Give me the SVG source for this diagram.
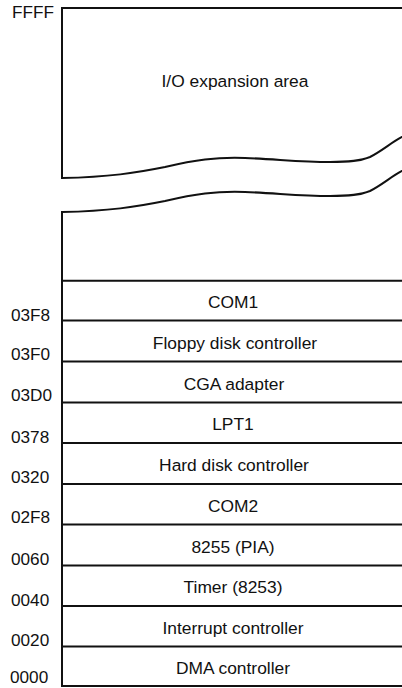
<svg xmlns="http://www.w3.org/2000/svg" width="402" height="688" viewBox="0 0 402 688">
<style>
.ln{stroke:#111;stroke-width:2;fill:none;stroke-linecap:square}
.lb{font-family:"Liberation Sans",Arial,sans-serif;font-size:17.4px;fill:#111;text-anchor:middle}
.ad{font-family:"Liberation Sans",Arial,sans-serif;font-size:17.2px;fill:#111;text-anchor:start}
</style>
<rect width="402" height="688" fill="#fff"/>
<g id="connectors">
<path class="ln" d="M402,8 H62 V178 C110,177 135,173 165,167 C195,160 215,157 245,158 C275,159 300,162 330,162 C350,162 360,161 370,157 C382,151 392,142 402,137"/>
<path class="ln" d="M62,686 V212 C110,211 135,207 165,201 C195,194 215,191 245,192 C275,193 300,196 330,196 C350,196 360,195 370,191 C382,185 392,176 402,171"/>
<path class="ln" d="M62,280.7 H402 M62,320.5 H402 M62,361.5 H402 M62,402.5 H402 M62,443 H402 M62,484 H402 M62,524.5 H402 M62,565.5 H402 M62,606 H402 M62,646.5 H402 M62,686 H402"/>
</g>
<g id="io-expansion"><text class="lb" x="235" y="87">I/O expansion area</text></g>
<g id="com1"><text class="lb" x="233" y="308">COM1</text></g>
<g id="floppy"><text class="lb" x="235" y="348.5">Floppy disk controller</text></g>
<g id="cga"><text class="lb" x="234" y="389.5">CGA adapter</text></g>
<g id="lpt1"><text class="lb" x="233" y="430">LPT1</text></g>
<g id="hdd"><text class="lb" x="234" y="471">Hard disk controller</text></g>
<g id="com2"><text class="lb" x="233" y="511.5">COM2</text></g>
<g id="pia"><text class="lb" x="233" y="552.5">8255 (PIA)</text></g>
<g id="timer"><text class="lb" x="233" y="593">Timer (8253)</text></g>
<g id="pic"><text class="lb" x="233" y="633.5">Interrupt controller</text></g>
<g id="dma"><text class="lb" x="233" y="673.5">DMA controller</text></g>
<g id="addresses">
<text class="ad" x="12" y="18">FFFF</text>
<text class="ad" x="11" y="321">03F8</text>
<text class="ad" x="11" y="360">03F0</text>
<text class="ad" x="11" y="401">03D0</text>
<text class="ad" x="11" y="443">0378</text>
<text class="ad" x="11" y="482.5">0320</text>
<text class="ad" x="11" y="523">02F8</text>
<text class="ad" x="11" y="565">0060</text>
<text class="ad" x="11" y="606">0040</text>
<text class="ad" x="11" y="646">0020</text>
<text class="ad" x="10" y="683">0000</text>
</g>
</svg>
